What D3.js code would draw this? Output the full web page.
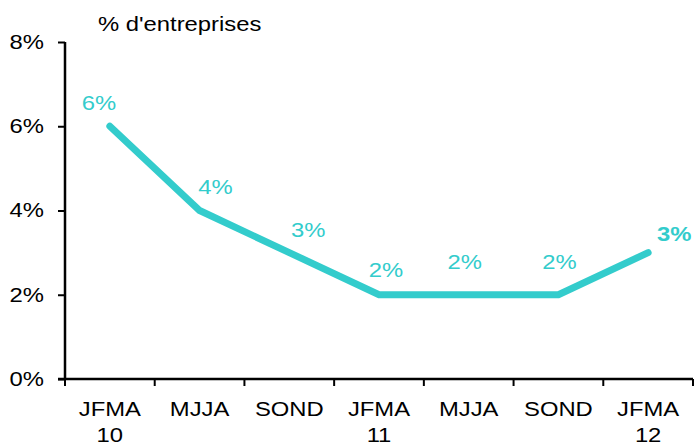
<!DOCTYPE html>
<html>
<head>
<meta charset="utf-8">
<script src="https://cdn.jsdelivr.net/npm/d3@7"></script>
<style>
  body { margin: 0; background: #fff; }
  text { font-family: "Liberation Sans", Arial, sans-serif; }
</style>
</head>
<body>
<div id="svg_div"><svg width="694" height="444"></svg></div>
<script>
// Data
var periods = ["JFMA", "MJJA", "SOND", "JFMA", "MJJA", "SOND", "JFMA"];
var years = ["10", "", "", "11", "", "", "12"];
var values = [6, 4, 3, 2, 2, 2, 3];
var yTicks = [0, 2, 4, 6, 8];

// Label nudges relative to each point (layout only)
var labelDx = [-11, 16, 19, 7, -4, 1, 26];
var labelDy = [-16, -17, -16, -18, -26, -26, -12];

var color = "#33cccc";
var fontSize = "20px";

// The reference text is a bit wider than Liberation Sans, so stretch it
function stretch(sel) {
    sel.each(function() {
        var len = this.getComputedTextLength();
        if (len > 0) {
            d3.select(this)
                .attr("textLength", len * 1.19)
                .attr("lengthAdjust", "spacingAndGlyphs");
        }
    });
}

var svg = d3.select("#svg_div").select("svg");
var margin = {top: 42, left: 65, bottom: 63, right: 0};
var width = +svg.attr("width") - margin.left - margin.right - 1;
var height = +svg.attr("height") - margin.top - margin.bottom - 2;

var g = svg.append("g")
    .attr("transform", "translate(" + [margin.left, margin.top] + ")");

var idx = d3.range(periods.length);

var xScale = d3.scaleBand()
    .domain(idx)
    .range([0, width]);

var yScale = d3.scaleLinear()
    .domain([0, 8])
    .range([height, 0]);

// Y axis
var yAxisG = g.append("g")
    .call(d3.axisLeft(yScale).tickValues(yTicks).tickFormat(function(d) { return d + "%"; }).tickSize(7).tickPadding(14));
yAxisG.selectAll("text").style("font-size", fontSize).attr("fill", "#000").call(stretch);
yAxisG.selectAll("line").attr("stroke", "#000").attr("stroke-width", 2);
yAxisG.select(".domain").attr("stroke", "#000").attr("stroke-width", 2.5).attr("d", "M0,0V" + height);

// X axis with ticks at band edges
var xAxisG = g.append("g").attr("transform", "translate(0," + height + ")");
xAxisG.append("line")
    .attr("x1", -7).attr("x2", width)
    .attr("stroke", "#000").attr("stroke-width", 2.5);
xAxisG.selectAll(".xtick")
    .data(d3.range(periods.length + 1))
    .enter().append("line")
    .attr("class", "xtick")
    .attr("x1", function(d) { return d < periods.length ? xScale(d) : width; })
    .attr("x2", function(d) { return d < periods.length ? xScale(d) : width; })
    .attr("y1", 0).attr("y2", 7)
    .attr("stroke", "#000").attr("stroke-width", 2);

var xLab = xAxisG.selectAll(".xlab")
    .data(idx)
    .enter().append("text")
    .attr("class", "xlab")
    .attr("text-anchor", "middle")
    .style("font-size", fontSize);
xLab.append("tspan").attr("y", 37).attr("x", function(d) { return xScale(d) + xScale.bandwidth() / 2; })
    .text(function(d) { return periods[d]; });
xLab.append("tspan").attr("y", 63).attr("x", function(d) { return xScale(d) + xScale.bandwidth() / 2; })
    .text(function(d) { return years[d]; });
xLab.selectAll("tspan").call(stretch);

// Title
svg.append("text")
    .attr("x", 98).attr("y", 31)
    .style("font-size", fontSize)
    .text("% d'entreprises")
    .call(stretch);

// Line
var line = d3.line()
    .x(function(d) { return xScale(d) + xScale.bandwidth() / 2; })
    .y(function(d) { return yScale(values[d]); });

g.append("path")
    .datum(idx)
    .attr("d", line)
    .attr("fill", "none")
    .attr("stroke", color)
    .attr("stroke-width", 7)
    .attr("stroke-linecap", "round")
    .attr("stroke-linejoin", "miter");

// Value labels
g.selectAll(".vlab")
    .data(idx)
    .enter().append("text")
    .attr("class", "vlab")
    .attr("text-anchor", "middle")
    .attr("fill", color)
    .style("font-size", fontSize)
    .style("font-weight", function(d) { return d === idx.length - 1 ? "bold" : "normal"; })
    .attr("x", function(d) { return xScale(d) + xScale.bandwidth() / 2 + labelDx[d]; })
    .attr("y", function(d) { return yScale(values[d]) + labelDy[d]; })
    .text(function(d) { return values[d] + "%"; })
    .call(stretch);
</script>
</body>
</html>
